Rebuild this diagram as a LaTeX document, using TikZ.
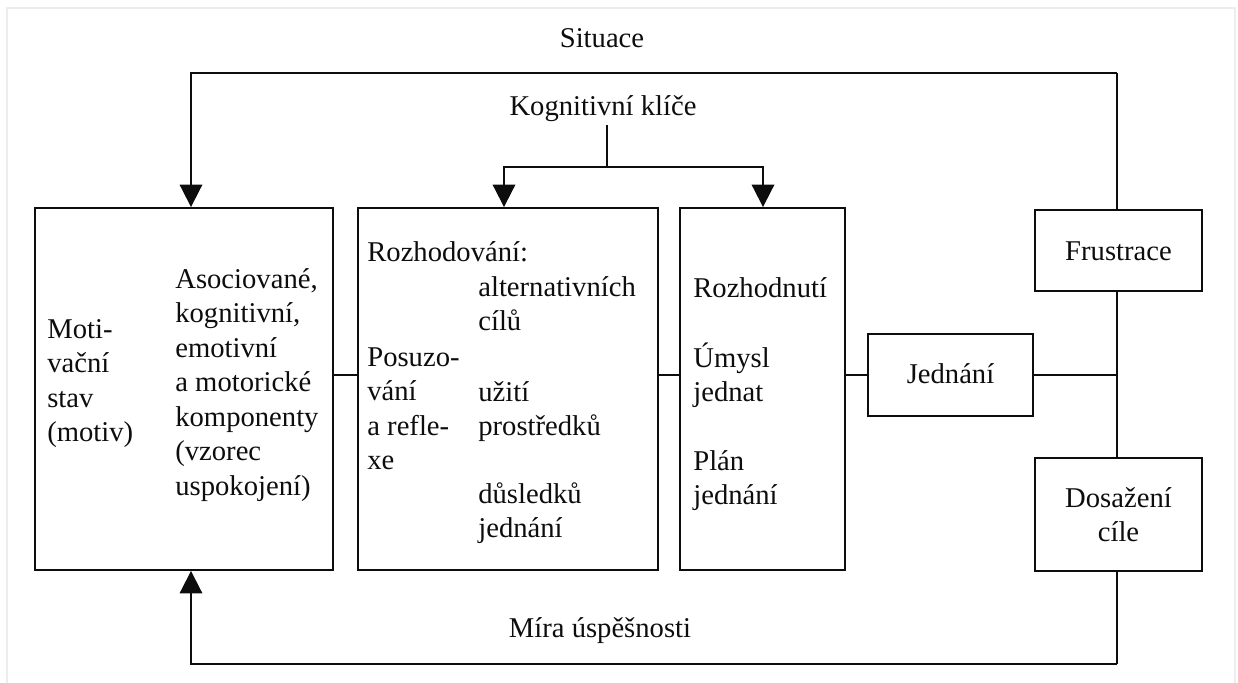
\documentclass[tikz,border=0pt]{standalone}
\usepackage{fontspec}
\setmainfont{Liberation Serif}
\usepackage{xcolor}
\usepackage{tikz}
\usetikzlibrary{arrows.meta}
\definecolor{ink}{rgb}{0.05, 0.05, 0.05}
\definecolor{frame}{rgb}{0.93, 0.93, 0.93}

\begin{document}
\begin{tikzpicture}[x=0.02cm,y=-0.02cm,font=\fontsize{16.3}{19.6}\selectfont]
	\tikzstyle{box} = [draw=ink,line width=1.1pt,inner sep=0pt]
	\tikzstyle{label} = [inner sep=2pt,anchor=base,text=ink]
	\tikzstyle{column} = [inner sep=0pt,anchor=base west,align=left,text=ink]
	\tikzstyle{link} = [draw=ink,line width=1.1pt]
	\tikzstyle{tiparrow} = [-{Triangle[length=0.45cm,width=0.45cm]}]

	\useasboundingbox (0,0) rectangle (1238,683);

	% Draw the frame
	\draw[frame,line width=1.5pt] (7,683) -- (7,8) -- (1235,8) -- (1235,683);

	% Boxes
	\node (motiv) at (184,389) [box,minimum width=5.96cm,minimum height=7.24cm] {};
	\node (rozhod) at (508,389) [box,minimum width=6.0cm,minimum height=7.24cm] {};
	\node (rozhnut) at (762.5,389) [box,minimum width=3.3cm,minimum height=7.24cm] {};
	\node (jedn) at (950.5,375) [box,minimum width=3.3cm,minimum height=1.64cm] {};
	\node (frust) at (1118.5,250.5) [box,minimum width=3.34cm,minimum height=1.62cm] {};
	\node (dosaz) at (1118.5,514.5) [box,minimum width=3.34cm,minimum height=2.26cm] {};

	% Texts inside the boxes (placed at the baseline of their last line)
	\node (motivA) at (47,441.5) [column] {Moti-\\vační\\stav\\(motiv)};
	\node (motivB) at (175,495) [column] {Asociované,\\kognitivní,\\emotivní\\a motorické\\komponenty\\(vzorec\\uspokojení)};

	\node (rozhodA) at (367,261) [column] {Rozhodování:};
	\node (rozhodB) at (367,469.5) [column] {Posuzo-\\vání\\a refle-\\xe};
	\node (rozhodC) at (478,330.5) [column] {alternativních\\cílů};
	\node (rozhodD) at (478,435.5) [column] {užití\\prostředků};
	\node (rozhodE) at (478,537.5) [column] {důsledků\\jednání};

	\node (rozhnutA) at (693,297) [column] {Rozhodnutí};
	\node (rozhnutB) at (693,401.5) [column] {Úmysl\\jednat};
	\node (rozhnutC) at (693,504.5) [column] {Plán\\jednání};

	\node (jednT) at (950.5,383) [label] {Jednání};
	\node (frustT) at (1118.5,260) [label] {Frustrace};
	\node (dosazT) at (1118.5,541.5) [label,align=center] {Dosažení\\cíle};

	% Labels on the loops
	\node (situace) at (602,47) [label] {Situace};
	\node (klice) at (603,115) [label] {Kognitivní klíče};
	\node (mira) at (600,637) [label] {Míra úspěšnosti};

	% Corner points of the loops
	\coordinate (sitR) at (1117,73);
	\coordinate (sitL) at (191,73);
	\coordinate (miraR) at (1117,664);
	\coordinate (miraL) at (191,664);
	\coordinate (kl) at (607,167);

	% Links along the middle
	\draw[link] (motiv.east |- jedn) -- (rozhod.west |- jedn);
	\draw[link] (rozhod.east |- jedn) -- (rozhnut.west |- jedn);
	\draw[link] (rozhnut.east |- jedn) -- (jedn.west);
	\draw[link] (jedn.east) -- (jedn.east -| sitR);

	% Right column and the two loops
	\draw[link] (sitR) -- (sitR |- frust.north);
	\draw[link] (sitR |- frust.south) -- (sitR |- dosaz.north);
	\draw[link] (sitR |- dosaz.south) -- (miraR);
	\draw[link,tiparrow] (sitR) -- (sitL) -- (sitL |- motiv.north);
	\draw[link,tiparrow] (miraR) -- (miraL) -- (miraL |- motiv.south);

	% Cognitive keys
	\draw[link] (klice.south -| kl) -- (kl);
	\draw[link,tiparrow] (kl) -| (504,0 |- rozhod.north);
	\draw[link,tiparrow] (kl) -| (763,0 |- rozhnut.north);
\end{tikzpicture}
\end{document}
